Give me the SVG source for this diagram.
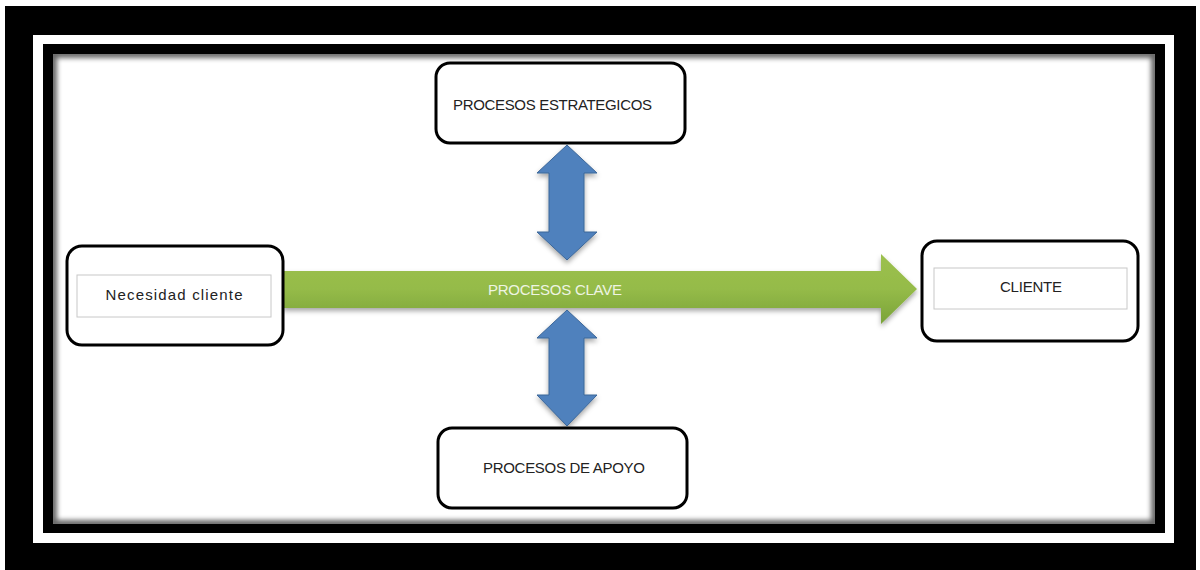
<svg xmlns="http://www.w3.org/2000/svg" width="1200" height="570" viewBox="0 0 1200 570">
  <defs>
    <style>
      .box { fill: #ffffff; stroke: #000000; stroke-width: 3; }
      .inner { fill: #ffffff; stroke: #c8c8c8; stroke-width: 1; }
      .lbl { font-family: "Liberation Sans", Arial, sans-serif; font-size: 15px; fill: #222222; }
      .key { font-family: "Liberation Sans", Arial, sans-serif; font-size: 15px; fill: #eef4e2; }
      .blue { fill: #4f81bd; stroke: #3b6698; stroke-width: 1; }
    </style>
    <linearGradient id="greenFill" x1="0" y1="0" x2="0" y2="1">
      <stop offset="0" stop-color="#9cc04f"/>
      <stop offset="0.5" stop-color="#95bb48"/>
      <stop offset="1" stop-color="#7aa33a"/>
    </linearGradient>
    <filter id="drop" x="-10%" y="-30%" width="120%" height="170%">
      <feDropShadow dx="0" dy="3" stdDeviation="2.5" flood-color="#000000" flood-opacity="0.35"/>
    </filter>
    <filter id="soft" x="-5%" y="-5%" width="110%" height="110%">
      <feGaussianBlur stdDeviation="2.5"/>
    </filter>
    <clipPath id="sheetClip">
      <rect x="53" y="54" width="1102" height="470"/>
    </clipPath>
  </defs>

  <!-- picture frame -->
  <rect x="0" y="0" width="1200" height="570" fill="#ffffff"/>
  <rect x="5" y="6" width="1191" height="564" fill="#000000"/>
  <rect x="33" y="35" width="1141" height="508" fill="#ffffff"/>
  <rect x="43" y="44" width="1122" height="489" fill="#000000"/>
  <rect x="53" y="54" width="1102" height="470" fill="#ffffff"/>
  <g clip-path="url(#sheetClip)">
    <rect x="53" y="54" width="1102" height="470" fill="none" stroke="#000000" stroke-width="8" stroke-opacity="0.6" filter="url(#soft)"/>
  </g>

  <!-- connectors -->
  <g id="connectors">
    <!-- key process arrow -->
    <path d="M283,271 L881,271 L881,254 L917,289 L881,324 L881,308 L283,308 Z" fill="url(#greenFill)" filter="url(#drop)"/>
    <text class="key" x="555" y="295" text-anchor="middle" textLength="134">PROCESOS CLAVE</text>
    <!-- strategic <-> key -->
    <path class="blue" d="M567,145 L597,173 L584,173 L584,232 L597,232 L567,260 L537,232 L549,232 L549,173 L537,173 Z" filter="url(#drop)"/>
    <!-- key <-> support -->
    <path class="blue" d="M567,310 L597,338 L584,338 L584,395 L597,395 L567,426 L537,395 L549,395 L549,338 L537,338 Z" filter="url(#drop)"/>
  </g>

  <g id="node-necesidad">
    <rect class="box" x="67" y="246" width="216" height="99" rx="15"/>
    <rect class="inner" x="77" y="275" width="194" height="42"/>
    <text class="lbl" x="174" y="300" text-anchor="middle" textLength="137">Necesidad cliente</text>
  </g>

  <g id="node-cliente">
    <rect class="box" x="922" y="241" width="216" height="100" rx="15"/>
    <rect class="inner" x="934" y="268" width="193" height="41"/>
    <text class="lbl" x="1031" y="292" text-anchor="middle" textLength="62">CLIENTE</text>
  </g>

  <g id="node-estrategicos">
    <rect class="box" x="436" y="63" width="249" height="80" rx="14"/>
    <text class="lbl" x="453" y="110" textLength="199">PROCESOS ESTRATEGICOS</text>
  </g>

  <g id="node-apoyo">
    <rect class="box" x="438" y="428" width="249" height="80" rx="14"/>
    <text class="lbl" x="483" y="473" textLength="162">PROCESOS DE APOYO</text>
  </g>
</svg>
